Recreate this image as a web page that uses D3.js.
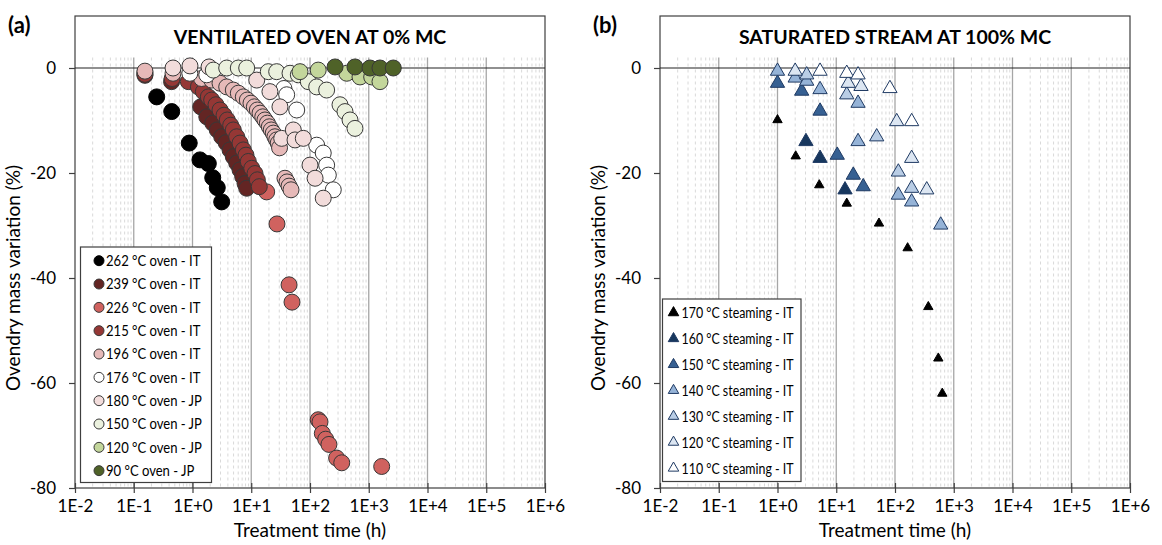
<!DOCTYPE html>
<html>
<head>
<meta charset="utf-8">
<script src="https://cdn.jsdelivr.net/npm/d3@7"></script>
<style>
  body { margin: 0; background: #fff; }
  svg { font-family: Lato, 'Open Sans', sans-serif; }
</style>
</head>
<body>
<svg width="1162" height="545"></svg>
<script>
// ---- data (treatment time in h, ovendry mass variation in %) ----
const xTickValues = [1e-2, 1e-1, 1e0, 1e1, 1e2, 1e3, 1e4, 1e5, 1e6];
const xTickLabels = ['1E-2', '1E-1', '1E+0', '1E+1', '1E+2', '1E+3', '1E+4', '1E+5', '1E+6'];
const yTickValues = [0, -20, -40, -60, -80];

const ovenNames = ['262 °C oven - IT', '239 °C oven - IT', '226 °C oven - IT', '215 °C oven - IT',
  '196 °C oven - IT', '176 °C oven - IT', '180 °C oven - JP', '150 °C oven - JP',
  '120 °C oven - JP', '90 °C oven - JP'];
const ovenColors = ['#000000', '#632523', '#d0625f', '#953735', '#e6b9b8', '#ffffff',
  '#f2dcdb', '#ebf1de', '#c3d69b', '#4f6228'];

const oven262 = [[0.246, -5.5], [0.443, -8.3], [0.88, -14.3], [1.34, -17.5], [1.86, -18.2],
  [2.21, -20.9], [2.64, -22.8], [3.14, -25.5]];
const oven239 = [[0.155, -1.4], [0.44, -2.6], [1.38, -7.4], [1.75, -9.3], [2.21, -10.5], [2.64, -11.8],
  [3.14, -13.1], [3.72, -14.2], [4.35, -15.6], [4.95, -16.9], [5.65, -18.1], [6.44, -19.4],
  [7.15, -20.7], [7.83, -22.0], [8.37, -22.9]];
const oven226 = [[0.155, -0.9], [18.3, -23.6], [27.4, -29.7], [44, -41.3], [49.4, -44.6],
  [138, -67.0], [148, -67.4], [162, -69.6], [185, -70.7], [210, -71.7], [284, -74.3],
  [347, -75.2], [1660, -75.9]];
const oven215 = [[0.155, -1.2], [0.45, -2.0], [0.85, -2.6], [1.26, -3.6], [1.53, -4.5], [1.86, -5.5],
  [2.12, -6.1], [2.51, -7.0], [2.94, -8.0], [3.44, -9.0], [3.91, -9.9], [4.47, -10.9],
  [4.95, -11.8], [5.65, -13.1], [6.44, -14.3], [7.33, -15.6], [8.14, -16.6], [8.91, -17.8],
  [10.2, -19.1], [11.6, -20.1], [12.7, -21.3], [13.7, -22.6]];
const oven196 = [[0.155, -0.6], [0.466, -1.0], [1.43, -2.0], [2.12, -2.3], [2.94, -2.9], [3.82, -3.6],
  [4.95, -4.2], [6.02, -4.8], [7.33, -5.5], [8.57, -6.1], [9.9, -6.7], [11.3, -7.4],
  [12.7, -8.0], [14.1, -8.6], [15.7, -9.3], [17.1, -9.9], [18.8, -10.5], [20.3, -11.2],
  [21.9, -11.8], [23.7, -12.4], [25.3, -13.1], [27.1, -13.7], [28.8, -14.3], [30.3, -15.2],
  [37.5, -21.0], [40.6, -21.7], [44, -22.5], [47.5, -23.2]];
const oven176 = [[0.9, -1.0], [1.75, -1.3], [36, -3.9], [40.1, -5.1], [59.4, -8.0], [130, -14.7],
  [168, -16.2], [192, -18.5], [205, -20.4], [249, -23.2]];
const oven180jp = [[0.466, 0], [0.906, 0.4], [1.91, 0.2], [12.4, -2.3], [20.8, -4.5], [30.8, -7.4],
  [33, -13.4], [52, -11.8], [55.6, -13.7], [76.9, -13.4], [100, -18.5], [122, -21.0], [168, -24.8]];
const oven150jp = [[2.26, -0.4], [3.82, 0], [6.02, 0], [8.37, 0], [19.5, -0.7], [27.1, -0.7],
  [45.7, -1.0], [63.3, -1.3], [93.6, -2.6], [130, -3.6], [192, -4.2], [324, -7.0],
  [394, -8.3], [480, -9.9], [583, -11.5]];
const oven120jp = [[67.6, -0.7], [138, -0.4], [422, -1.0], [710, -1.7], [1122, -1.7], [1553, -2.6]];
const oven90jp = [[267, 0.2], [583, 0.2], [1050, 0], [1553, 0], [2616, 0]];

const steamNames = ['170 °C steaming - IT', '160 °C steaming - IT', '150 °C steaming - IT',
  '140 °C steaming - IT', '130 °C steaming - IT', '120 °C steaming - IT', '110 °C steaming - IT'];
const steamColors = ['#000000', '#17375e', '#366092', '#95b3d7', '#b9cde5', '#dce6f2', '#ffffff'];

const steam170 = [[1, -9.9], [2.04, -16.8], [5.14, -22.3], [15.1, -25.8], [53.4, -29.6],
  [164, -34.3], [369, -45.5], [546, -55.3], [638, -62.0]];
const steam160 = [[3.05, -14.0], [5.3, -17.2], [14.1, -23.2]];
const steam150 = [[1, -2.9], [2.58, -4.4], [5.3, -8.2], [10.4, -16.6], [19.5, -20.4], [28.8, -22.6]];
const steam140 = [[1, -0.6], [2, -1.9], [3.14, -2.5], [5.3, -4.1], [23.5, -6.7], [23.5, -14.0],
  [114, -24.2], [192, -25.5], [600, -29.9]];
const steam130 = [[3.14, -1.3], [15.1, -5.1], [48.8, -13.1], [114, -19.8], [192, -22.9]];
const steam120 = [[2, -0.6], [16, -2.9], [26.4, -3.5], [107, -10.2], [192, -17.2], [347, -23.2]];
const steam110 = [[5.3, -0.6], [15.1, -1.0], [23.5, -1.3], [82, -3.9], [192, -10.2]];

const ovenSeries = [oven262, oven239, oven226, oven215, oven196, oven176, oven180jp, oven150jp, oven120jp, oven90jp];
const steamSeries = [steam170, steam160, steam150, steam140, steam130, steam120, steam110];

// ---- layout ----
const svg = d3.select('svg');
const yTop = 16, yBottom = 488;

// squeeze legend text a bit so it reads like the narrow original font
function squeeze(sel, factor) {
  sel.each(function () {
    const w = this.getComputedTextLength();
    d3.select(this).attr('textLength', w * factor).attr('lengthAdjust', 'spacingAndGlyphs');
  });
}

function drawPanel(left, right, tag, title, series, names, colors, kind) {
  const xScale = d3.scaleLog().domain([1e-2, 1e6]).range([left, right]);
  const yScale = d3.scaleLinear().domain([-80, 2]).range([yBottom, 57.5]);
  const g = svg.append('g');

  // minor gridlines (2..9 of each decade)
  const minors = [];
  xTickValues.slice(0, -1).forEach(d => { for (let k = 2; k <= 9; k++) minors.push(d * k); });
  g.selectAll('.minor').data(minors).enter().append('line')
    .attr('x1', d => xScale(d)).attr('x2', d => xScale(d))
    .attr('y1', yScale(2)).attr('y2', yBottom)
    .attr('stroke', '#d9d9d9').attr('stroke-width', 1).attr('stroke-dasharray', '3,3');

  // major gridlines
  g.selectAll('.major').data(xTickValues.slice(1, -1)).enter().append('line')
    .attr('x1', d => xScale(d)).attr('x2', d => xScale(d))
    .attr('y1', yScale(2)).attr('y2', yBottom)
    .attr('stroke', '#a6a6a6').attr('stroke-width', 1.3);

  // frame
  g.append('rect')
    .attr('x', left).attr('y', yTop).attr('width', right - left).attr('height', yBottom - yTop)
    .attr('fill', 'none').attr('stroke', '#3f3f3f').attr('stroke-width', 1.2);

  // zero line
  g.append('line')
    .attr('x1', left).attr('x2', right).attr('y1', yScale(0)).attr('y2', yScale(0))
    .attr('stroke', '#222').attr('stroke-width', 1.2);

  // axes
  const yAxis = d3.axisLeft(yScale).tickValues(yTickValues).tickSize(6).tickPadding(13)
    .tickFormat(d => d);
  g.append('g').attr('transform', `translate(${left},0)`).call(yAxis)
    .call(a => a.select('.domain').remove())
    .call(a => a.selectAll('line').attr('stroke', '#3f3f3f').attr('stroke-width', 1.2))
    .call(a => a.selectAll('text').attr('font-size', 17).attr('fill', '#000')
      .attr('font-family', 'Lato, sans-serif'));

  const xAxis = d3.axisBottom(xScale).tickValues(xTickValues).tickSize(5).tickPadding(7)
    .tickFormat((d, i) => xTickLabels[i]);
  g.append('g').attr('transform', `translate(0,${yBottom})`).call(xAxis)
    .call(a => a.select('.domain').remove())
    .call(a => a.selectAll('line').attr('y1', -5).attr('stroke', '#3f3f3f').attr('stroke-width', 1.2))
    .call(a => a.selectAll('text').attr('font-size', 17).attr('fill', '#000')
      .attr('font-family', 'Lato, sans-serif'));

  // labels
  g.append('text').attr('x', (left + right) / 2).attr('y', 537)
    .attr('text-anchor', 'middle').attr('font-size', 19).text('Treatment time (h)');
  g.append('text')
    .attr('transform', `translate(${left - 55},278) rotate(-90)`)
    .attr('text-anchor', 'middle').attr('font-size', 19).text('Ovendry mass variation (%)');
  g.append('text').attr('x', (left + right) / 2).attr('y', 44)
    .attr('text-anchor', 'middle').attr('font-size', 19.5).attr('font-weight', 'bold').text(title);
  g.append('text').attr('x', left - 67).attr('y', 33)
    .attr('font-size', 22).attr('font-weight', 'bold').text(tag);

  // marks
  series.forEach((pts, i) => {
    const sg = g.append('g');
    if (kind === 'circle') {
      sg.selectAll('circle').data(pts).enter().append('circle')
        .attr('cx', d => xScale(d[0])).attr('cy', d => yScale(d[1])).attr('r', 8)
        .attr('fill', colors[i]).attr('stroke', i === 0 ? '#000' : '#383838').attr('stroke-width', 1);
    } else {
      const size = i === 0 ? 38 : 88;
      sg.selectAll('path').data(pts).enter().append('path')
        .attr('d', d3.symbol(d3.symbolTriangle, size))
        .attr('transform', d => `translate(${xScale(d[0])},${yScale(d[1])})`)
        .attr('fill', colors[i]).attr('stroke', i === 0 ? '#000' : '#1f3a63').attr('stroke-width', 1);
    }
  });

  // legend
  const lg = g.append('g');
  if (kind === 'circle') {
    lg.append('rect').attr('x', left + 5.5).attr('y', 247).attr('width', 131).attr('height', 235.5)
      .attr('fill', '#fff').attr('stroke', '#3f3f3f').attr('stroke-width', 1.2);
    const items = lg.selectAll('.item').data(names).enter().append('g')
      .attr('transform', (d, i) => `translate(${left + 24},${260.7 + i * 23.33})`);
    items.append('circle').attr('r', 5).attr('fill', (d, i) => colors[i])
      .attr('stroke', (d, i) => i === 0 ? '#000' : '#383838').attr('stroke-width', 1);
    items.append('text').attr('x', 7).attr('dy', '0.35em').attr('font-size', 15).text(d => d)
      .call(squeeze, 0.87);
  } else {
    lg.append('rect').attr('x', left + 2.5).attr('y', 299).attr('width', 138.5).attr('height', 182.5)
      .attr('fill', '#fff').attr('stroke', '#3f3f3f').attr('stroke-width', 1.2);
    const items = lg.selectAll('.item').data(names).enter().append('g')
      .attr('transform', (d, i) => `translate(${left + 13.5},${312.7 + i * 25.9})`);
    items.append('path').attr('d', d3.symbol(d3.symbolTriangle, 48))
      .attr('fill', (d, i) => colors[i]).attr('stroke', (d, i) => i === 0 ? '#000' : '#1f3a63');
    items.append('text').attr('x', 8).attr('dy', '0.35em').attr('font-size', 15.5).text(d => d)
      .call(squeeze, 0.8);
  }
}

drawPanel(75, 545, '(a)', 'VENTILATED OVEN AT 0% MC', ovenSeries, ovenNames, ovenColors, 'circle');
drawPanel(660, 1130, '(b)', 'SATURATED STREAM AT 100% MC', steamSeries, steamNames, steamColors, 'triangle');
</script>
</body>
</html>
